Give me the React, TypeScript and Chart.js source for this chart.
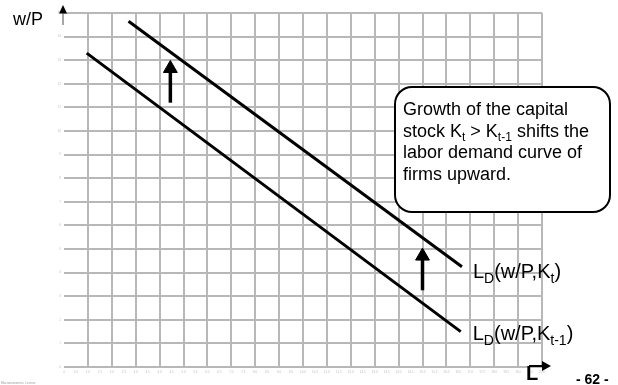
import React, { useEffect, useRef } from "react";
import { Chart, registerables } from "chart.js";
Chart.register(...registerables);

// Axis ranges (grid units)
const xMin = 0;
const xMax = 20;
const yMin = 0;
const yMax = 15;

// Labor demand curve with capital stock K_t (shifted up)
const ldKtX = [2.7, 16.65];
const ldKtY = [14.65, 4.25];
// Labor demand curve with capital stock K_{t-1}
const ldKt1X = [0.95, 16.6];
const ldKt1Y = [13.3, 1.5];

// Upward shift arrows
const arrowX = [4.45, 15.0];
const arrowBottom = [11.2, 3.25];
const arrowHead = [12.65, 4.7];

// Text
const yAxisTitle = "w/P";
const xAxisTitle = "L";
const pageLabel = "- 62 -";
const footerText = "Macroeconomics  Lecture";
type Part = { t: string; sub?: boolean };
const boxLines: Part[][] = [
  [{ t: "Growth of the capital" }],
  [{ t: "stock K" }, { t: "t", sub: true }, { t: " > K" }, { t: "t-1", sub: true }, { t: " shifts the" }],
  [{ t: "labor demand curve of" }],
  [{ t: "firms upward." }],
];
const labelKt: Part[] = [{ t: "L" }, { t: "D", sub: true }, { t: "(w/P,K" }, { t: "t", sub: true }, { t: ")" }];
const labelKt1: Part[] = [{ t: "L" }, { t: "D", sub: true }, { t: "(w/P,K" }, { t: "t-1", sub: true }, { t: ")" }];

const FONT = "'Liberation Sans', Arial, Helvetica, sans-serif";
const gridColor = "#b8b8b8";

function drawRich(ctx: CanvasRenderingContext2D, x: number, y: number, parts: Part[], size: number, subSize: number, subOff: number) {
  let cx = x;
  for (const p of parts) {
    ctx.font = `${p.sub ? subSize : size}px ${FONT}`;
    ctx.fillText(p.t, cx, p.sub ? y + subOff : y);
    cx += ctx.measureText(p.t).width;
  }
}

const annotations = {
  id: "annotations",
  afterDatasetsDraw(chart: any) {
    const ctx: CanvasRenderingContext2D = chart.ctx;
    const xs = chart.scales.x;
    const ys = chart.scales.y;
    const ca = chart.chartArea;
    ctx.save();
    ctx.textBaseline = "alphabetic";
    ctx.textAlign = "left";

    // y axis arrow
    ctx.strokeStyle = "#a8a8a8";
    ctx.lineWidth = 2;
    ctx.beginPath();
    ctx.moveTo(ca.left - 1, ca.top + 12);
    ctx.lineTo(ca.left - 1, ca.top);
    ctx.stroke();
    ctx.fillStyle = "#000";
    ctx.beginPath();
    ctx.moveTo(ca.left - 1, ca.top - 8);
    ctx.lineTo(ca.left - 5, ca.top + 0.5);
    ctx.lineTo(ca.left + 3, ca.top + 0.5);
    ctx.closePath();
    ctx.fill();

    // y axis title
    ctx.fillStyle = "#000";
    ctx.font = `18px ${FONT}`;
    ctx.fillText(yAxisTitle, 13, 25);

    // x axis arrow + title
    ctx.strokeStyle = "#000";
    ctx.lineWidth = 2;
    ctx.beginPath();
    ctx.moveTo(ca.right - 13, ca.bottom - 1);
    ctx.lineTo(ca.right + 2, ca.bottom - 1);
    ctx.stroke();
    ctx.beginPath();
    ctx.moveTo(ca.right + 9, ca.bottom - 1);
    ctx.lineTo(ca.right, ca.bottom - 6);
    ctx.lineTo(ca.right, ca.bottom + 4);
    ctx.closePath();
    ctx.fill();
    ctx.font = `bold 20px ${FONT}`;
    ctx.fillText(xAxisTitle, ca.right - 16, ca.bottom + 13);

    // page label
    ctx.font = `bold 14px ${FONT}`;
    ctx.fillText(pageLabel, 576, 384);

    // footer
    ctx.fillStyle = "#9a9a9a";
    ctx.font = `3px ${FONT}`;
    ctx.fillText(footerText, 1, 384);

    // curve labels
    ctx.fillStyle = "#000";
    const ux = xs.getPixelForValue(ldKtX[1]);
    const uy = ys.getPixelForValue(ldKtY[1]);
    drawRich(ctx, ux + 11, uy + 11, labelKt, 20, 14, 5);
    const lx = xs.getPixelForValue(ldKt1X[1]);
    const ly = ys.getPixelForValue(ldKt1Y[1]);
    drawRich(ctx, lx + 12, ly + 8, labelKt1, 20, 14, 5);

    // text box
    const bx = 395, by = 87, bw = 215, bh = 125, r = 17;
    ctx.beginPath();
    ctx.moveTo(bx + r, by);
    ctx.lineTo(bx + bw - r, by);
    ctx.arcTo(bx + bw, by, bx + bw, by + r, r);
    ctx.lineTo(bx + bw, by + bh - r);
    ctx.arcTo(bx + bw, by + bh, bx + bw - r, by + bh, r);
    ctx.lineTo(bx + r, by + bh);
    ctx.arcTo(bx, by + bh, bx, by + bh - r, r);
    ctx.lineTo(bx, by + r);
    ctx.arcTo(bx, by, bx + r, by, r);
    ctx.closePath();
    ctx.fillStyle = "#fff";
    ctx.fill();
    ctx.strokeStyle = "#000";
    ctx.lineWidth = 2;
    ctx.stroke();
    ctx.fillStyle = "#000";
    const baselines = [115, 137, 158, 180];
    boxLines.forEach((ln, i) => drawRich(ctx, 403, baselines[i], ln, 18, 12, 4));

    ctx.restore();
  },
};

export default function App() {
  const ref = useRef<HTMLCanvasElement>(null);
  useEffect(() => {
    document.body.style.margin = "0";
    const canvas = ref.current!;
    const mkLine = (xs: number[], ys: number[]) => ({
      data: xs.map((x, i) => ({ x, y: ys[i] })),
      showLine: true,
      borderColor: "#000",
      backgroundColor: "#000",
      borderWidth: 3,
      pointRadius: 0,
      borderCapStyle: "butt" as const,
    });
    const arrows = arrowX.map((x, i) => ({
      data: [
        { x, y: arrowBottom[i] },
        { x, y: arrowHead[i] },
      ],
      showLine: true,
      borderColor: "#000",
      backgroundColor: "#000",
      borderWidth: 3.5,
      pointRadius: [0, 8],
      pointStyle: "triangle" as const,
      pointBackgroundColor: "#000",
      pointBorderColor: "#000",
      pointBorderWidth: 1,
    }));
    const chart = new Chart(canvas, {
      type: "scatter",
      data: {
        datasets: [mkLine(ldKtX, ldKtY), mkLine(ldKt1X, ldKt1Y), ...arrows] as any,
      },
      options: {
        animation: false,
        responsive: false,
        devicePixelRatio: 1,
        layout: { padding: { top: 13, right: 76, left: 0, bottom: 0 } },
        plugins: { legend: { display: false }, tooltip: { enabled: false } },
        scales: {
          x: {
            type: "linear",
            min: xMin,
            max: xMax,
            afterFit: (s: any) => {
              s.height = 18;
            },
            border: { display: false },
            grid: {
              drawTicks: false,
              lineWidth: 2,
              color: (c: any) => {
                const v = c.tick ? c.tick.value : 0;
                return v === 0 || !Number.isInteger(v) ? "rgba(0,0,0,0)" : gridColor;
              },
            },
            ticks: {
              stepSize: 0.5,
              padding: 3,
              color: "#bdbdbd",
              font: { size: 3, family: FONT },
              maxRotation: 0,
              autoSkip: false,
            },
          },
          y: {
            type: "linear",
            min: yMin,
            max: yMax,
            afterFit: (s: any) => {
              s.width = 64;
            },
            border: { display: false },
            grid: { drawTicks: false, lineWidth: 2, color: gridColor },
            ticks: {
              stepSize: 1,
              padding: 3,
              color: "#bdbdbd",
              font: { size: 3, family: FONT },
              autoSkip: false,
            },
          },
        },
      },
      plugins: [annotations],
    });
    return () => chart.destroy();
  }, []);
  return (
    <canvas
      ref={ref}
      width={618}
      height={385}
      style={{ position: "absolute", left: 0, top: 0, display: "block" }}
    />
  );
}
